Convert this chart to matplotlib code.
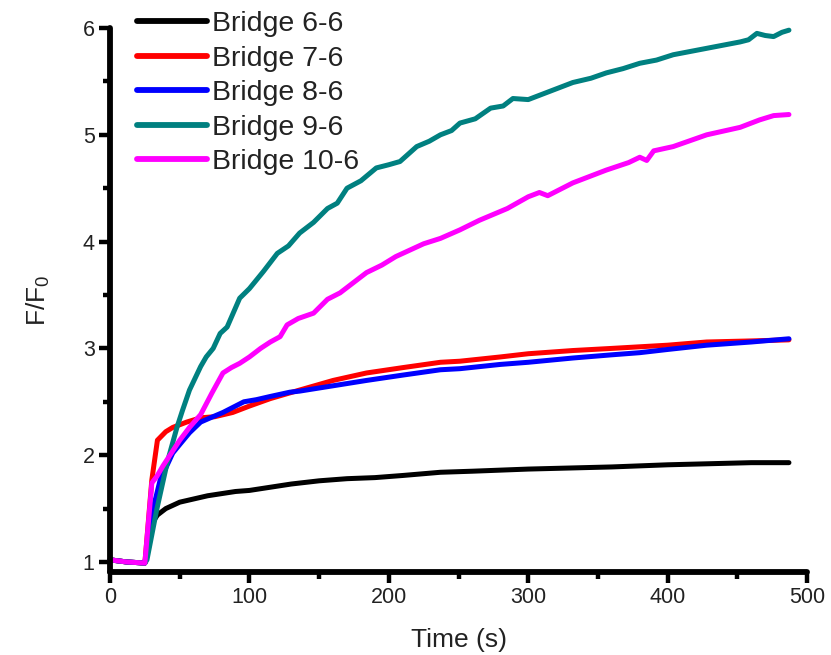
import matplotlib
matplotlib.use("Agg")
import matplotlib.pyplot as plt
from matplotlib.ticker import MultipleLocator

plt.rcParams['font.family'] = ['Liberation Sans', 'DejaVu Sans']
plt.rcParams['mathtext.default'] = 'regular'

# data
labels = ['Bridge 6-6', 'Bridge 7-6', 'Bridge 8-6', 'Bridge 9-6', 'Bridge 10-6']
colors = ['#000000', '#ff0000', '#0000ff', '#008080', '#ff00ff']

t_66 = [0, 12, 25, 30, 34, 40, 50, 60, 70, 80, 90, 100, 115, 130, 150, 170, 190, 210,
        237, 260, 280, 300, 330, 360, 380, 400, 430, 460, 487]
f_66 = [1.02, 1.0, 0.99, 1.36, 1.44, 1.50, 1.56, 1.59, 1.62, 1.64, 1.66, 1.67, 1.70, 1.73,
        1.76, 1.78, 1.79, 1.81, 1.84, 1.85, 1.86, 1.87, 1.88, 1.89, 1.90, 1.91, 1.92, 1.93, 1.93]

t_76 = [0, 12, 25, 30, 34, 40, 45, 55, 65, 75, 88, 100, 115, 136, 160, 184, 210, 237, 251,
        280, 300, 332, 360, 400, 428, 460, 487]
f_76 = [1.02, 1.0, 0.99, 1.77, 2.14, 2.22, 2.26, 2.31, 2.35, 2.36, 2.40, 2.46, 2.53, 2.61,
        2.70, 2.77, 2.82, 2.87, 2.88, 2.92, 2.95, 2.98, 3.0, 3.03, 3.06, 3.07, 3.08]

t_86 = [0, 12, 25, 30, 36, 40, 45, 50, 57, 65, 72, 81, 90, 96, 105, 115, 129, 136, 160, 184,
        210, 237, 251, 280, 300, 332, 360, 380, 400, 428, 460, 487]
f_86 = [1.02, 1.0, 0.99, 1.45, 1.77, 1.88, 2.02, 2.10, 2.21, 2.31, 2.35, 2.40, 2.46, 2.50,
        2.52, 2.55, 2.59, 2.60, 2.65, 2.70, 2.75, 2.80, 2.81, 2.85, 2.87, 2.91, 2.94, 2.96,
        2.99, 3.03, 3.06, 3.09]

t_96 = [0, 12, 25, 26.5, 33.5, 41, 48, 52, 57, 65, 69, 74, 79, 84, 93, 100, 110, 120, 128,
        136, 146, 156, 163, 170, 180, 191, 200, 208, 220, 229, 237, 245, 251, 262, 273, 282,
        289, 300, 308, 320, 332, 345, 356, 368, 380, 392, 404, 416, 428, 440, 452, 458, 464,
        470, 476, 482, 487]
f_96 = [1.02, 1.0, 0.99, 1.02, 1.49, 1.93, 2.26, 2.42, 2.61, 2.83, 2.92, 3.0, 3.14, 3.20,
        3.47, 3.56, 3.72, 3.89, 3.96, 4.08, 4.18, 4.31, 4.36, 4.50, 4.57, 4.69, 4.72, 4.75,
        4.89, 4.94, 5.0, 5.04, 5.11, 5.15, 5.25, 5.27, 5.34, 5.33, 5.37, 5.43, 5.49, 5.53,
        5.58, 5.62, 5.67, 5.70, 5.75, 5.78, 5.81, 5.84, 5.87, 5.89, 5.95, 5.93, 5.92, 5.96, 5.98]

t_106 = [0, 12, 25, 30, 33.5, 38, 43, 50, 57, 65, 73, 81, 87, 93, 100, 108, 115, 122, 127,
         135, 146, 156, 165, 175, 184, 195, 205, 215, 225, 237, 251, 265, 285, 300, 308, 314,
         332, 356, 372, 380, 385, 390, 404, 428, 452, 466, 476, 487]
f_106 = [1.02, 1.0, 0.99, 1.74, 1.80, 1.90, 2.0, 2.14, 2.26, 2.38, 2.58, 2.77, 2.82, 2.86,
         2.92, 3.0, 3.06, 3.11, 3.22, 3.28, 3.33, 3.46, 3.52, 3.62, 3.71, 3.78, 3.86, 3.92,
         3.98, 4.03, 4.11, 4.20, 4.31, 4.42, 4.46, 4.43, 4.55, 4.67, 4.74, 4.79, 4.76, 4.85,
         4.89, 5.0, 5.07, 5.14, 5.18, 5.19]

times = [t_66, t_76, t_86, t_96, t_106]
values = [f_66, f_76, f_86, f_96, f_106]

fig = plt.figure(figsize=(8.31, 6.55), dpi=100)
ax = fig.add_axes([0.1324, 0.1267, 0.8388, 0.8305])

for t, f, c, lab in zip(times, values, colors, labels):
    ax.plot(t, f, color=c, lw=3.6, label=lab, clip_on=False,
            solid_capstyle='round', solid_joinstyle='round')

ax.set_xlim(0, 500)
ax.set_ylim(0.906, 6)
ax.xaxis.set_major_locator(MultipleLocator(100))
ax.xaxis.set_minor_locator(MultipleLocator(50))
ax.yaxis.set_major_locator(MultipleLocator(1))
ax.yaxis.set_minor_locator(MultipleLocator(0.5))
ax.set_yticks([1, 2, 3, 4, 5, 6])

for s in ['top', 'right']:
    ax.spines[s].set_visible(False)
for s in ['left', 'bottom']:
    ax.spines[s].set_linewidth(4.2)
    ax.spines[s].set_capstyle('round')

ax.tick_params(which='major', direction='out', length=8, width=3.2, labelsize=15.5,
               pad=3, colors='black', labelcolor='#222222')
ax.tick_params(which='minor', direction='out', length=5, width=3.2)

ax.set_xlabel('Time (s)', fontsize=19, color='#222222', labelpad=14)
ax.set_ylabel('F/F$_0$', fontsize=19, color='#222222', labelpad=22)

leg = ax.legend(loc='upper left', bbox_to_anchor=(137 / 831, 1 - 11 / 655),
                bbox_transform=fig.transFigure, frameon=False, fontsize=20.5,
                handlelength=2.45, handletextpad=0.2, labelspacing=0.3,
                borderpad=0, borderaxespad=0)
for line in leg.get_lines():
    line.set_linewidth(4.2)
for txt in leg.get_texts():
    txt.set_color('#222222')

fig.savefig('out.png', dpi=100)
